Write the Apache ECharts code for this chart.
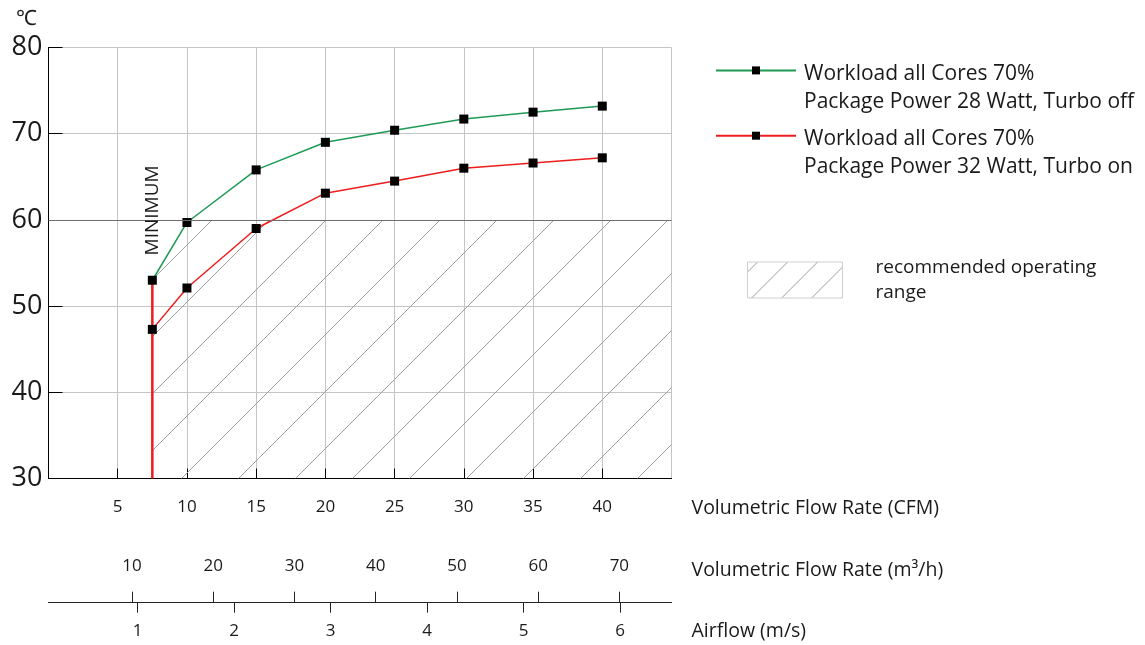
<!DOCTYPE html>
<html><head><meta charset="utf-8">
<script src="https://cdn.jsdelivr.net/npm/echarts@6/dist/echarts.min.js"></script>
<style>html,body{margin:0;padding:0;background:#fff}#chart{width:1145px;height:645px}</style>
</head><body><div id="chart"></div>
<script>
// ---- data ----
const cfm = [7.5, 10, 15, 20, 25, 30, 35, 40];
const tempTurboOff = [53.0, 59.7, 65.8, 69.0, 70.4, 71.7, 72.5, 73.2];
const tempTurboOn = [47.3, 52.1, 59.0, 63.1, 64.5, 66.0, 66.6, 67.2];
const minimumX = [7.5, 7.5];
const minimumY = [30, 53];
const rangeX = [7.5, 10, 10.25, 45];
const rangeY = [53, 59.7, 60, 60];
const limitTemp = 60;
const m3hTicks = [10, 20, 30, 40, 50, 60, 70];
const msTicks = [1, 2, 3, 4, 5, 6];
const nameOff = 'Workload all Cores 70%\nPackage Power 28 Watt, Turbo off';
const nameOn = 'Workload all Cores 70%\nPackage Power 32 Watt, Turbo on';
const nameRange = 'recommended operating\nrange';
const axisNames = ['Volumetric Flow Rate (CFM)', 'Volumetric Flow Rate (m³/h)', 'Airflow (m/s)'];

const FONT = "'Open Sans', sans-serif";
const TXT = '#1a1a1a';

function makeHatch(step, color, ox) {
  const c = document.createElement('canvas');
  c.width = step; c.height = step;
  const ctx = c.getContext('2d');
  ctx.strokeStyle = color; ctx.lineWidth = 1;
  ctx.beginPath();
  ctx.moveTo(-2, step + 2); ctx.lineTo(step + 2, -2);
  ctx.stroke();
  return { image: c, repeat: 'repeat', x: ox || 0, y: 0 };
}

const zip = (xs, ys) => xs.map((x, i) => [x, ys[i]]);

const chart = echarts.init(document.getElementById('chart'), null, { renderer: 'canvas' });
const option = {
  animation: false,
  backgroundColor: '#fff',
  textStyle: { fontFamily: FONT },
  grid: { left: 48.5, right: 473.5, top: 47.5, bottom: 166.5, outerBoundsMode: 'none', containLabel: false },
  legend: [
    {
      left: 715, top: 24.5, orient: 'vertical', padding: 0,
      itemWidth: 80, itemHeight: 10, itemGap: -26.5,
      selectedMode: false,
      data: [nameOff, nameOn],
      formatter: n => '{s| }\n' + n.split('\n').map(l => '{a|' + l + '}').join('\n'),
      textStyle: {
        fontFamily: FONT, fontSize: 21, color: TXT, lineHeight: 28,
        rich: {
          s: { fontSize: 10, lineHeight: 35, fontFamily: FONT },
          a: { fontSize: 21, lineHeight: 28.4, fontFamily: FONT, color: TXT, padding: [0, 0, 0, 3] }
        }
      }
    },
    {
      left: 747, top: 255, orient: 'vertical', padding: 0,
      itemWidth: 95, itemHeight: 36,
      selectedMode: false,
      data: [{ name: nameRange, icon: 'rect',
        itemStyle: { color: makeHatch(30, '#9a9a9a', 10), borderColor: '#cfcfcf', borderWidth: 1 } }],
      textStyle: { fontFamily: FONT, fontSize: 19, color: TXT, lineHeight: 25, padding: [0, 0, 0, 28] }
    }
  ],
  graphic: axisNames.map((t, i) => ({
    type: 'text', left: 691.5, top: [508.3, 570, 631.7][i] - 13, silent: true,
    style: { text: t, fontFamily: FONT, fontSize: 19.5, fill: TXT, lineHeight: 26, verticalAlign: 'top' }
  })),
  xAxis: [
    {
      type: 'value', min: 0, max: 45, interval: 5, position: 'bottom',
      axisLine: { lineStyle: { color: '#000', width: 1 } },
      axisTick: { inside: true, length: 10, lineStyle: { color: '#000' } },
      axisLabel: { fontFamily: FONT, fontSize: 17, color: TXT, margin: 20, showMinLabel: false, showMaxLabel: false },
      splitLine: { show: true, lineStyle: { color: '#c4c4c4', width: 1 } }
    },
    {
      type: 'value', min: -0.28, max: 76.42, position: 'bottom', offset: 124.2,
      axisLine: { show: true, lineStyle: { color: '#222', width: 1 } },
      axisTick: { show: true, inside: true, length: 11, customValues: m3hTicks, lineStyle: { color: '#222' } },
      axisLabel: { inside: true, margin: 28, customValues: m3hTicks, fontFamily: FONT, fontSize: 17, color: TXT },
      splitLine: { show: false }
    },
    {
      type: 'value', min: 0.075, max: 6.534, position: 'bottom', offset: 124.2,
      axisLine: { show: true, lineStyle: { color: '#222', width: 1 } },
      axisTick: { show: true, inside: false, length: 10, customValues: msTicks, lineStyle: { color: '#222' } },
      axisLabel: { margin: 20, customValues: msTicks, fontFamily: FONT, fontSize: 17, color: TXT },
      splitLine: { show: false }
    }
  ],
  yAxis: {
    type: 'value', min: 30, max: 80, interval: 10,
    name: '℃', nameLocation: 'end', nameGap: 18,
    nameTextStyle: { fontFamily: FONT, fontSize: 21, color: TXT, align: 'right', padding: [0, 12, 0, 0] },
    axisLine: { show: true, lineStyle: { color: '#000', width: 1 } },
    axisTick: { show: true, inside: true, length: 14, lineStyle: { color: '#000' } },
    axisLabel: { fontFamily: FONT, fontSize: 27, color: TXT, margin: 6 },
    splitLine: { show: true, lineStyle: { color: '#c4c4c4', width: 1 } }
  },
  series: [
    {
      name: nameRange, type: 'line', xAxisIndex: 0, z: 1, silent: true,
      data: zip(rangeX, rangeY), symbol: 'none',
      lineStyle: { width: 0, color: '#9a9a9a' },
      itemStyle: { color: '#9a9a9a' },
      areaStyle: { origin: 'start', color: makeHatch(57, '#a0a0a0', 33), opacity: 1 },
      markLine: {
        silent: true, symbol: 'none', label: { show: false },
        lineStyle: { color: '#6e6e6e', width: 1.2, type: 'solid' },
        data: [{ yAxis: limitTemp }]
      }
    },
    {
      name: 'minimum', type: 'line', xAxisIndex: 0, z: 3, silent: true,
      data: zip(minimumX, minimumY), symbol: 'none',
      lineStyle: { color: '#ee1c1c', width: 2.5 },
      markPoint: {
        symbol: 'rect', symbolSize: 1, itemStyle: { color: 'rgba(0,0,0,0)' },
        label: { show: true, position: 'inside', rotate: 90, formatter: 'MINIMUM', fontFamily: FONT, fontSize: 19, color: TXT },
        data: [{ coord: [7.5, 61.1] }]
      }
    },
    {
      name: nameOff, type: 'line', xAxisIndex: 0, z: 4,
      data: zip(cfm, tempTurboOff),
      symbol: 'rect', symbolSize: 9,
      lineStyle: { color: '#1f9a55', width: 1.5 },
      itemStyle: { color: '#000', borderWidth: 0 }
    },
    {
      name: nameOn, type: 'line', xAxisIndex: 0, z: 4,
      data: zip(cfm, tempTurboOn),
      symbol: 'rect', symbolSize: 9,
      lineStyle: { color: '#ee1c1c', width: 1.5 },
      itemStyle: { color: '#000', borderWidth: 0 }
    }
  ]
};
chart.setOption(option);
</script></body></html>
